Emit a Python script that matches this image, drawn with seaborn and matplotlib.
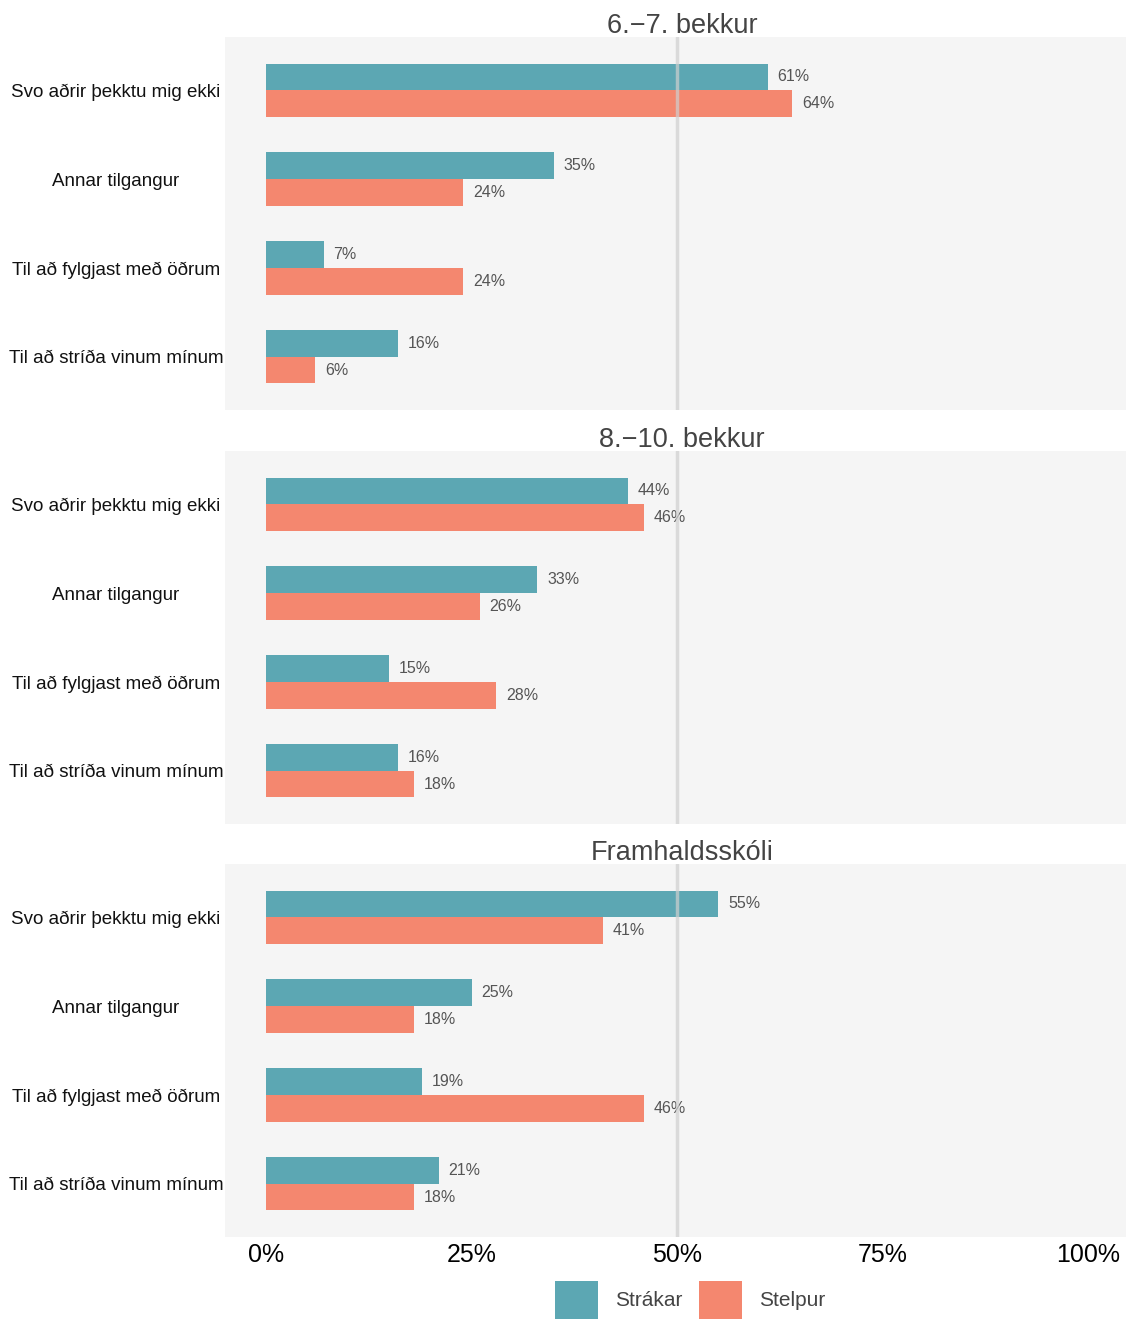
import matplotlib
matplotlib.use("Agg")
import matplotlib.pyplot as plt
import seaborn as sns
import pandas as pd
from matplotlib.patches import Patch

# Data
categories = [
    "Svo aðrir þekktu mig ekki",
    "Annar tilgangur",
    "Til að fylgjast með öðrum",
    "Til að stríða vinum mínum",
]
groups = ["Strákar", "Stelpur"]
panels = ["6.\u22127. bekkur", "8.\u221210. bekkur", "Framhaldsskóli"]

strakar = {
    "6.\u22127. bekkur": [61, 35, 7, 16],
    "8.\u221210. bekkur": [44, 33, 15, 16],
    "Framhaldsskóli": [55, 25, 19, 21],
}
stelpur = {
    "6.\u22127. bekkur": [64, 24, 24, 6],
    "8.\u221210. bekkur": [46, 26, 28, 18],
    "Framhaldsskóli": [41, 18, 46, 18],
}

colors = {"Strákar": "#5ca7b3", "Stelpur": "#f4876f"}
ticks = [0, 25, 50, 75, 100]
tick_labels = ["0%", "25%", "50%", "75%", "100%"]

sns.set_style("white")
plt.rcParams["font.family"] = ["Liberation Sans", "DejaVu Sans"]

W, H = 1126, 1319
fig = plt.figure(figsize=(W / 100, H / 100), dpi=100)

# panel pixel extents (top, bottom)
extents = [(37, 410), (451, 824), (864, 1237)]
left_px = 225

for i, name in enumerate(panels):
    top, bot = extents[i]
    ax = fig.add_axes([left_px / W, 1 - bot / H, (W - left_px) / W, (bot - top) / H])
    ax.set_facecolor("#f5f5f5")

    df = pd.DataFrame({
        "kategoria": categories * 2,
        "kyn": [groups[0]] * 4 + [groups[1]] * 4,
        "hlutfall": strakar[name] + stelpur[name],
    })
    sns.barplot(data=df, x="hlutfall", y="kategoria", hue="kyn", orient="h",
                palette=colors, width=0.6, saturation=1, legend=False,
                errorbar=None, linewidth=0, ax=ax, zorder=2)

    for cont in ax.containers:
        ax.bar_label(cont, labels=[f"{v:.0f}%" for v in cont.datavalues],
                     padding=7, fontsize=11.5, color="#555555")

    ax.axvline(50, color="#cfcfcf", lw=2.5, alpha=0.7, zorder=5)

    ax.set_xlim(-5, 104.6)
    ax.set_ylim(3.6, -0.6)
    ax.set_xlabel("")
    ax.set_ylabel("")
    for s in ax.spines.values():
        s.set_visible(False)

    ax.tick_params(axis="y", length=0, pad=78.5, labelsize=13.5, labelcolor="#111111")
    for lab in ax.get_yticklabels():
        lab.set_horizontalalignment("center")

    ax.set_xticks(ticks)
    if i == len(panels) - 1:
        ax.set_xticklabels(tick_labels)
        ax.tick_params(axis="x", length=0, pad=4, labelsize=18, labelcolor="black")
    else:
        ax.set_xticklabels([])
        ax.tick_params(axis="x", length=0)

    fig.text(682 / W, 1 - (top - 4) / H, name, ha="center", va="baseline",
             fontsize=19.5, color="#444444")

handles = [Patch(facecolor=colors[g], edgecolor="none", label=g) for g in groups]
fig.legend(handles=handles, loc="center", bbox_to_anchor=(690 / W, 1 - 1300 / H),
           ncol=2, frameon=False, fontsize=15, labelcolor="#444444",
           handlelength=2.07, handleheight=2.5, handletextpad=0.8,
           columnspacing=0.8)

fig.savefig("out.png", dpi=100)
